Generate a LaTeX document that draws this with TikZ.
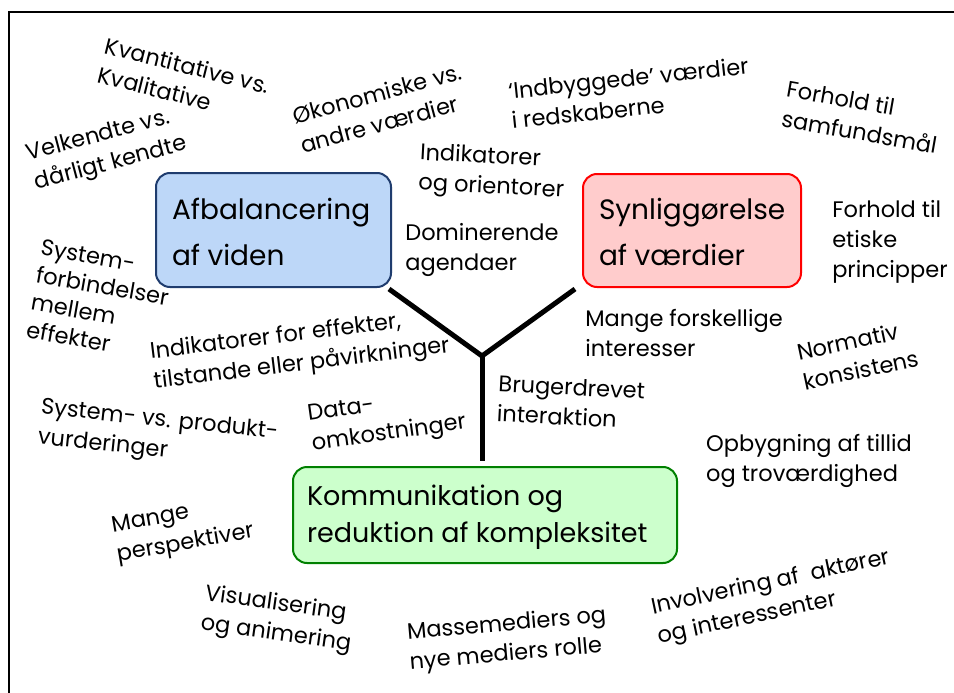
\documentclass[tikz,border=0pt]{standalone}
\usepackage{fontspec}
\setmainfont{Poppins}
\definecolor{bluefill}{RGB}{189,215,248}
\definecolor{blueline}{RGB}{31,60,110}
\definecolor{redfill}{RGB}{255,204,204}
\definecolor{redline}{RGB}{255,0,0}
\definecolor{greenfill}{RGB}{204,255,204}
\definecolor{greenline}{RGB}{0,128,0}
\begin{document}
\begin{tikzpicture}[x=1pt,y=-1pt,
  lbl/.style={align=left,inner sep=0pt,font=\fontsize{22.5}{30}\selectfont},
  bigbox/.style={rounded corners=14pt,line width=2pt,align=left,inner sep=0pt,font=\fontsize{28}{46}\selectfont},
  spoke/.style={line width=5pt}]
\useasboundingbox (0,0) rectangle (954,693);
\fill[white] (0,0) rectangle (954,693);
\draw[line width=1.5pt] (9,700) -- (9,12) -- (960,12);

% boxes
\draw[bigbox,fill=bluefill,draw=blueline] (156,173) rectangle (391,287);
\node[bigbox,anchor=west] (afb) at (171,232) {Afbalancering\\af viden};
\draw[bigbox,fill=redfill,draw=redline] (583,174) rectangle (801,287);
\node[bigbox,anchor=west] (syn) at (598,232) {Synliggørelse\\af værdier};
\draw[bigbox,fill=greenfill,draw=greenline] (293,467) rectangle (677,563);
\node[bigbox,anchor=west,font=\fontsize{27}{37}\selectfont] (kom) at (306,517) {Kommunikation og\\reduktion af kompleksitet};

% Y connector
\coordinate (junc) at (482,356);
\coordinate (la) at (389,289);
\coordinate (ra) at (575,289);
\coordinate (bot) at (482,461);
\draw[spoke] (la) -- (junc) -- (ra);
\draw[spoke] (junc) -- (bot);

% labels
\node[lbl,rotate=-14] (t1) at (184,80) {Kvantitative vs.\\Kvalitative};
\node[lbl,rotate=15] (t2) at (381,108) {Økonomiske vs.\\andre værdier};
\node[lbl,rotate=6] (t3) at (630,93) {‘Indbyggede’ værdier\\i redskaberne};
\node[lbl,rotate=-10] (t4) at (862,117) {Forhold til\\samfundsmål};
\node[lbl,rotate=15] (t5) at (107,150) {Velkendte vs.\\dårligt kendte};
\node[lbl,rotate=-3] (t6) at (492,173) {Indikatorer\\og orientorer};
\node[lbl] (t7) at (482,250) {Dominerende\\agendaer};
\node[lbl] (t8) at (890,242) {Forhold til\\etiske\\principper};
\node[lbl,rotate=-10,font=\fontsize{22.5}{28}\selectfont] (t9) at (100,300) {System-\\forbindelser\\mellem\\effekter};
\node[lbl,rotate=7] (t10) at (300,350) {Indikatorer for effekter,\\tilstande eller påvirkninger};
\node[lbl] (t11) at (684,333) {Mange forskellige\\interesser};
\node[lbl,rotate=12] (t12) at (858,355) {Normativ\\konsistens};
\node[lbl,rotate=-3] (t13) at (571,402) {Brugerdrevet\\interaktion};
\node[lbl,rotate=8] (t14) at (387,420) {Data-\\omkostninger};
\node[lbl,rotate=-6] (t15) at (158,436) {System- vs. produkt-\\vurderinger};
\node[lbl] (t16) at (809,461) {Opbygning af tillid\\og troværdighed};
\node[lbl,rotate=10] (t17) at (183,530) {Mange\\perspektiver};
\node[lbl,rotate=-8] (t18) at (278,620) {Visualisering\\og animering};
\node[lbl,rotate=5] (t19) at (508,640) {Massemediers og\\nye mediers rolle};
\node[lbl,rotate=12] (t20) at (774,598) {Involvering af\ \ aktører\\og interessenter};
\end{tikzpicture}
\end{document}
